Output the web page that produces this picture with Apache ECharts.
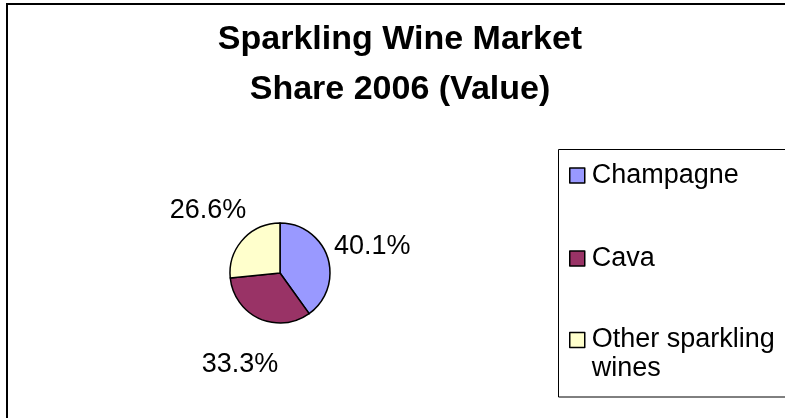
<!DOCTYPE html>
<html>
<head>
<meta charset="utf-8">
<script src="https://cdn.jsdelivr.net/npm/echarts@6/dist/echarts.min.js"></script>
<style>
html, body { margin: 0; padding: 0; background: #fff; }
#main { width: 785px; height: 418px; }
</style>
</head>
<body>
<div id="main"></div>
<script>
// data
var categories = ['Champagne', 'Cava', 'Other sparkling wines'];
var shares = [40.1, 33.3, 26.6];
var colors = ['#9999FF', '#993366', '#FFFFCC'];

var FONT = '"Liberation Sans", Arial, sans-serif';
var CENTER = [280, 273];
var RADIUS = 50;
var LABEL_DIST = 97;
var legendTops = [161, 244, 296.5];

var myChart = echarts.init(document.getElementById('main'));

var option = {
    animation: false,
    backgroundColor: '#fff',
    title: {
        text: 'Sparkling Wine Market\nShare 2006 (Value)',
        left: 400,
        top: 15,
        textAlign: 'center',
        padding: 0,
        textStyle: {
            fontFamily: FONT,
            fontSize: 34,
            fontWeight: 'bold',
            lineHeight: 50,
            color: '#000'
        }
    },
    // one legend per entry so the wrapped label keeps its box at the first line
    legend: categories.map(function (name, i) {
        return {
            data: [name],
            orient: 'vertical',
            left: 569,
            top: legendTops[i],
            padding: 0,
            itemWidth: 15,
            itemHeight: 15,
            icon: 'rect',
            selectedMode: false,
            itemStyle: { borderColor: '#000', borderWidth: 1.5 },
            formatter: function (n) {
                // long name wraps after "sparkling"; empty first line keeps the box level with line one
                return n.length > 15 ? '\n' + n.replace('sparkling ', 'sparkling\n') : n;
            },
            textStyle: {
                fontFamily: FONT,
                fontSize: 27,
                color: '#000',
                lineHeight: 29,
                padding: [0, 0, 0, 2]
            }
        };
    }),
    graphic: {
        elements: [
            {
                type: 'rect',
                shape: { x: 7, y: 4, width: 800, height: 430 },
                style: { fill: 'none', stroke: '#000', lineWidth: 2 }
            },
            {
                type: 'rect',
                shape: { x: 558.5, y: 149.5, width: 300, height: 247.5 },
                style: { fill: 'none', stroke: '#000', lineWidth: 1 }
            }
        ]
    },
    series: [{
        type: 'pie',
        center: CENTER,
        radius: RADIUS,
        startAngle: 90,
        clockwise: true,
        avoidLabelOverlap: false,
        itemStyle: { borderColor: '#000', borderWidth: 1.5 },
        emphasis: { disabled: true },
        label: {
            show: true,
            position: 'outside',
            formatter: '{c}%',
            fontFamily: FONT,
            fontSize: 27,
            color: '#000'
        },
        labelLine: {
            show: true,
            length: 5,
            length2: 5,
            lineStyle: { opacity: 0 }
        },
        labelLayout: function (p) {
            var pts = p.labelLinePoints;
            if (!pts) return {};
            var ux = (pts[0][0] - CENTER[0]) / RADIUS;
            var uy = (pts[0][1] - CENTER[1]) / RADIUS;
            return {
                x: CENTER[0] + ux * LABEL_DIST,
                y: CENTER[1] + uy * LABEL_DIST + 3,
                align: 'center',
                verticalAlign: 'middle'
            };
        },
        data: categories.map(function (name, i) {
            return { name: name, value: shares[i], itemStyle: { color: colors[i] } };
        })
    }]
};

myChart.setOption(option);
</script>
</body>
</html>
